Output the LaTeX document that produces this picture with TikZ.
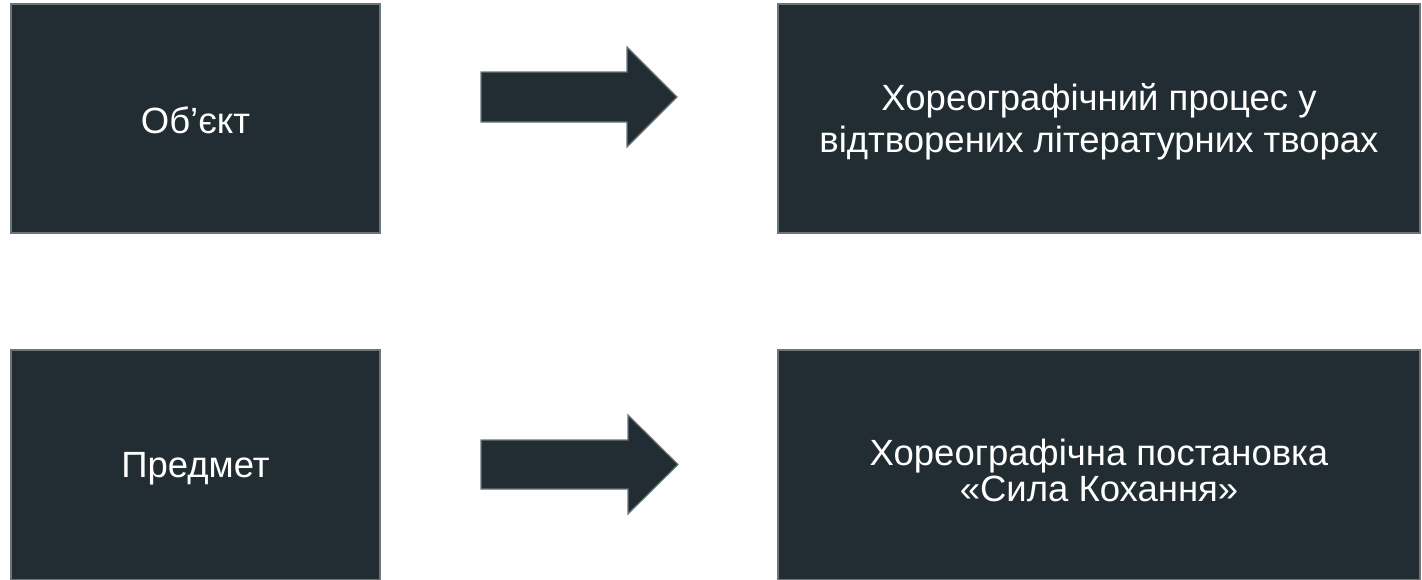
\documentclass[tikz,border=0pt]{standalone}
\usepackage{fontspec}
\setmainfont{Liberation Sans}
\definecolor{boxfill}{HTML}{212D32}
\definecolor{boxline}{HTML}{6A7679}
\begin{document}
\begin{tikzpicture}[x=1pt,y=-1pt,
  box/.style={draw=boxline, line width=1.5pt, fill=boxfill, inner sep=0pt},
  lbl/.style={text=white, font=\fontsize{36.5}{42}\selectfont, inner sep=0pt, anchor=base},
  blockarrow/.style={draw=boxline, line width=1.2pt, fill=boxfill, line join=miter}]
\useasboundingbox (0,0) rectangle (1422,579);
\node[box, minimum width=369pt, minimum height=229pt] (obj) at (195.5,118.5) {};
\node[box, minimum width=642pt, minimum height=229pt] (objd) at (1099,118.5) {};
\node[box, minimum width=369pt, minimum height=230pt] (subj) at (195.5,465) {};
\node[box, minimum width=642pt, minimum height=230pt] (subjd) at (1099,465) {};
\node[lbl] (objt) at (195.5,133) {Об’єкт};
\node[lbl] (objda) at (1099,110.7) {Хореографічний процес у};
\node[lbl] (objdb) at (1099,152.7) {відтворених літературних творах};
\node[lbl] (subjt) at (195.5,477) {Предмет};
\node[lbl] (subjda) at (1099,465) {Хореографічна постановка};
\node[lbl] (subjdb) at (1099,501) {«Сила Кохання»};
\draw[blockarrow] (481,72) -- (627,72) -- (627,47) -- (677,97) -- (627,147) -- (627,122) -- (481,122) -- cycle;
\draw[blockarrow] (481,440) -- (628,440) -- (628,415) -- (678,464.5) -- (628,514) -- (628,489) -- (481,489) -- cycle;
\end{tikzpicture}
\end{document}
